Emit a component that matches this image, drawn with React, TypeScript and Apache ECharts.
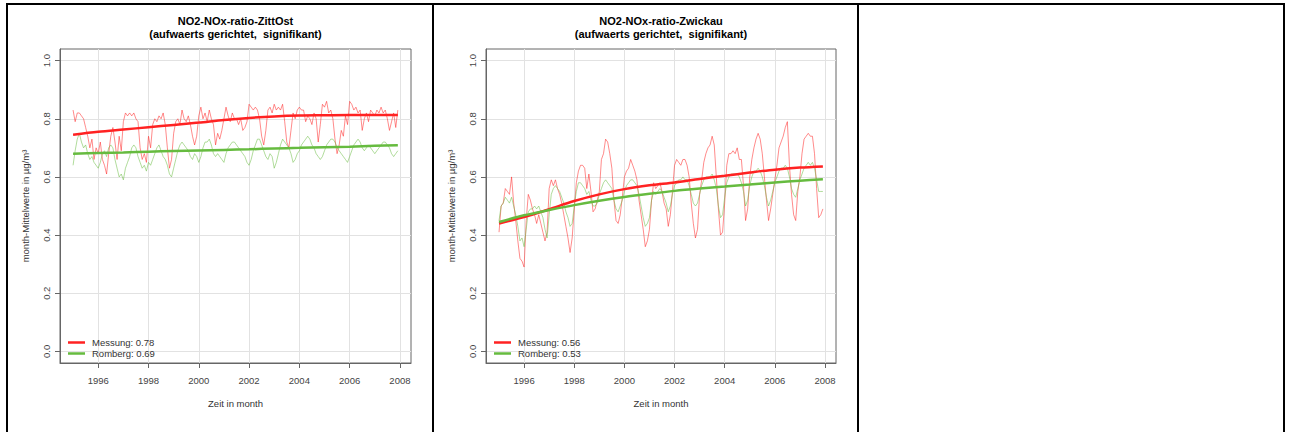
import React, { useEffect, useRef } from "react";
import * as echarts from "echarts";

const START_YEAR = 1995;
const xTicks = [1996, 1998, 2000, 2002, 2004, 2006, 2008];
const yTicks = [0, 0.2, 0.4, 0.6, 0.8, 1.0];
const trendYears = [1995, 1996, 1997, 1998, 1999, 2000, 2001, 2002, 2003, 2004, 2005, 2006, 2007, 2007.917];

const panelTitles = ["NO2-NOx-ratio-ZittOst", "NO2-NOx-ratio-Zwickau"];
const panelSubtitle = "(aufwaerts gerichtet,  signifikant)";
const legendZittOst = ["Messung: 0.78", "Romberg: 0.69"];
const legendZwickau = ["Messung: 0.56", "Romberg: 0.53"];

// ZittOst monthly means, Jan 1995 .. Dec 2007
const zittOstMessung = [
  0.83, 0.79, 0.82, 0.82, 0.81, 0.80, 0.77, 0.74, 0.70, 0.73, 0.66, 0.70,
  0.68, 0.72, 0.66, 0.64, 0.61, 0.68, 0.74, 0.77, 0.72, 0.66, 0.74, 0.69,
  0.79, 0.82, 0.81, 0.82, 0.81, 0.82, 0.80, 0.79, 0.70, 0.66, 0.68, 0.65,
  0.74, 0.70, 0.78, 0.80, 0.79, 0.81, 0.80, 0.82, 0.78, 0.70, 0.63, 0.66,
  0.75, 0.79, 0.80, 0.78, 0.83, 0.80, 0.79, 0.81, 0.78, 0.74, 0.71, 0.74,
  0.81, 0.84, 0.80, 0.82, 0.79, 0.83, 0.80, 0.78, 0.71, 0.75, 0.73, 0.76,
  0.80, 0.84, 0.81, 0.79, 0.82, 0.80, 0.80, 0.78, 0.80, 0.76, 0.77, 0.79,
  0.85, 0.84, 0.83, 0.84, 0.83, 0.80, 0.74, 0.71, 0.76, 0.83, 0.84, 0.82,
  0.85, 0.83, 0.84, 0.83, 0.85, 0.79, 0.72, 0.70, 0.76, 0.82, 0.80, 0.83,
  0.84, 0.83, 0.83, 0.79, 0.81, 0.80, 0.78, 0.82, 0.80, 0.72, 0.78, 0.85,
  0.84, 0.86, 0.82, 0.83, 0.80, 0.73, 0.68, 0.71, 0.76, 0.74, 0.81, 0.78,
  0.86, 0.85, 0.83, 0.84, 0.82, 0.83, 0.76, 0.80, 0.82, 0.79, 0.83, 0.82,
  0.81, 0.83, 0.82, 0.84, 0.82, 0.83, 0.80, 0.76, 0.79, 0.82, 0.77, 0.83,
];
const zittOstRomberg = [
  0.64, 0.69, 0.73, 0.75, 0.72, 0.70, 0.71, 0.68, 0.66, 0.67, 0.65, 0.64,
  0.63, 0.65, 0.68, 0.69, 0.67, 0.70, 0.71, 0.70, 0.66, 0.63, 0.60, 0.61,
  0.59, 0.63, 0.65, 0.67, 0.70, 0.71, 0.70, 0.67, 0.65, 0.63, 0.64, 0.62,
  0.65, 0.64, 0.66, 0.68, 0.70, 0.71, 0.69, 0.67, 0.66, 0.64, 0.61, 0.60,
  0.63, 0.66, 0.69, 0.71, 0.72, 0.71, 0.70, 0.69, 0.67, 0.66, 0.68, 0.67,
  0.65, 0.67, 0.70, 0.72, 0.72, 0.73, 0.71, 0.68, 0.67, 0.68, 0.67, 0.66,
  0.65, 0.68, 0.70, 0.71, 0.72, 0.72, 0.71, 0.70, 0.69, 0.68, 0.67, 0.65,
  0.64, 0.66, 0.69, 0.71, 0.73, 0.73, 0.71, 0.69, 0.67, 0.66, 0.68, 0.67,
  0.63, 0.65, 0.68, 0.71, 0.73, 0.72, 0.71, 0.70, 0.68, 0.65, 0.66, 0.68,
  0.69, 0.71, 0.72, 0.73, 0.74, 0.73, 0.71, 0.70, 0.68, 0.67, 0.66, 0.67,
  0.69, 0.71, 0.72, 0.73, 0.73, 0.72, 0.70, 0.69, 0.68, 0.67, 0.66, 0.65,
  0.67, 0.69, 0.71, 0.72, 0.73, 0.72, 0.70, 0.69, 0.70, 0.71, 0.70, 0.69,
  0.68, 0.69, 0.70, 0.71, 0.72, 0.72, 0.71, 0.70, 0.68, 0.67, 0.68, 0.69,
];
const zittOstMessungTrend = [0.745, 0.755, 0.763, 0.771, 0.779, 0.787, 0.796, 0.803, 0.808, 0.811, 0.812, 0.813, 0.813, 0.813];
const zittOstRombergTrend = [0.680, 0.682, 0.684, 0.687, 0.689, 0.691, 0.693, 0.695, 0.698, 0.700, 0.702, 0.704, 0.707, 0.709];

// Zwickau monthly means, Jan 1995 .. Dec 2007
const zwickauMessung = [
  0.41, 0.50, 0.51, 0.56, 0.55, 0.54, 0.60, 0.51, 0.45, 0.38, 0.32, 0.31,
  0.29, 0.45, 0.54, 0.52, 0.49, 0.47, 0.44, 0.47, 0.44, 0.41, 0.38, 0.41,
  0.56, 0.59, 0.57, 0.59, 0.56, 0.54, 0.51, 0.47, 0.43, 0.39, 0.34, 0.39,
  0.49, 0.58, 0.62, 0.64, 0.64, 0.63, 0.56, 0.61, 0.55, 0.48, 0.49, 0.52,
  0.55, 0.66, 0.68, 0.73, 0.72, 0.68, 0.63, 0.52, 0.45, 0.44, 0.47, 0.53,
  0.60, 0.62, 0.63, 0.66, 0.64, 0.62, 0.59, 0.52, 0.47, 0.42, 0.36, 0.38,
  0.42, 0.52, 0.58, 0.56, 0.57, 0.58, 0.55, 0.51, 0.49, 0.43, 0.47, 0.55,
  0.64, 0.66, 0.65, 0.64, 0.66, 0.66, 0.64, 0.60, 0.51, 0.44, 0.39, 0.42,
  0.54, 0.59, 0.65, 0.68, 0.70, 0.71, 0.74, 0.71, 0.60, 0.49, 0.40, 0.41,
  0.51, 0.64, 0.68, 0.68, 0.69, 0.68, 0.70, 0.66, 0.66, 0.57, 0.45, 0.49,
  0.60, 0.66, 0.70, 0.73, 0.75, 0.73, 0.68, 0.60, 0.52, 0.45, 0.49, 0.54,
  0.59, 0.64, 0.70, 0.72, 0.74, 0.77, 0.79, 0.64, 0.54, 0.47, 0.45, 0.55,
  0.60, 0.68, 0.73, 0.74, 0.75, 0.74, 0.74, 0.68, 0.56, 0.46, 0.47, 0.49,
];
const zwickauRomberg = [
  0.45, 0.50, 0.51, 0.53, 0.52, 0.51, 0.53, 0.50, 0.47, 0.43, 0.38, 0.39,
  0.36, 0.42, 0.48, 0.49, 0.49, 0.50, 0.49, 0.50, 0.48, 0.46, 0.42, 0.39,
  0.47, 0.54, 0.56, 0.57, 0.56, 0.55, 0.53, 0.51, 0.48, 0.46, 0.43, 0.44,
  0.50, 0.55, 0.58, 0.58, 0.57, 0.56, 0.54, 0.55, 0.52, 0.50, 0.50, 0.51,
  0.54, 0.56, 0.58, 0.59, 0.58, 0.57, 0.56, 0.52, 0.49, 0.48, 0.50, 0.52,
  0.55, 0.57, 0.58, 0.59, 0.59, 0.58, 0.57, 0.54, 0.50, 0.46, 0.43, 0.44,
  0.46, 0.52, 0.55, 0.54, 0.55, 0.56, 0.55, 0.53, 0.51, 0.48, 0.50, 0.54,
  0.57, 0.58, 0.59, 0.59, 0.60, 0.59, 0.59, 0.57, 0.54, 0.51, 0.50, 0.51,
  0.54, 0.57, 0.59, 0.60, 0.60, 0.60, 0.61, 0.59, 0.56, 0.50, 0.46, 0.47,
  0.53, 0.58, 0.60, 0.61, 0.61, 0.61, 0.61, 0.60, 0.58, 0.55, 0.50, 0.52,
  0.57, 0.60, 0.62, 0.62, 0.63, 0.62, 0.60, 0.57, 0.53, 0.50, 0.52, 0.55,
  0.58, 0.60, 0.62, 0.63, 0.63, 0.64, 0.63, 0.60, 0.56, 0.54, 0.53, 0.56,
  0.59, 0.61, 0.63, 0.64, 0.65, 0.64, 0.65, 0.63, 0.59, 0.55, 0.55, 0.55,
];
const zwickauMessungTrend = [0.440, 0.462, 0.489, 0.517, 0.540, 0.558, 0.571, 0.581, 0.593, 0.604, 0.615, 0.625, 0.632, 0.636];
const zwickauRombergTrend = [0.445, 0.468, 0.486, 0.503, 0.518, 0.531, 0.542, 0.552, 0.560, 0.567, 0.574, 0.581, 0.587, 0.592];

const FONT = '"Liberation Sans", Arial, Helvetica, sans-serif';
const RED_RAW = "rgba(255, 40, 40, 0.6)";
const GREEN_RAW = "rgba(110, 190, 70, 0.6)";
const RED = "#FF2222";
const GREEN = "#66BB3F";

const monthly = (vals: number[]) => vals.map((v, i) => [START_YEAR + i / 12, v]);
const trend = (vals: number[]) => vals.map((v, i) => [trendYears[i], v]);

const grids = [
  { left: 60, top: 49, width: 351, height: 314 },
  { left: 486, top: 49, width: 350, height: 314 },
];

function makeXAxis(idx: number) {
  return {
    type: "value",
    gridIndex: idx,
    min: 1994.48,
    max: 2008.44,
    name: "Zeit in month",
    nameLocation: "middle",
    nameGap: 35,
    nameTextStyle: { fontSize: 9.5, color: "#333", fontFamily: FONT },
    axisLine: { show: true, onZero: false, lineStyle: { color: "#666", width: 1 } },
    axisTick: { show: true, customValues: xTicks, length: 5, lineStyle: { color: "#666" } },
    axisLabel: {
      customValues: xTicks,
      margin: 12,
      fontSize: 9.5,
      color: "#444",
      fontFamily: FONT,
      formatter: (v: number) => String(Math.round(v)),
    },
    splitLine: { show: true, lineStyle: { color: "#e2e2e2", width: 1 } },
  };
}

function makeYAxis(idx: number) {
  return {
    type: "value",
    gridIndex: idx,
    min: -0.04,
    max: 1.04,
    name: "month-Mittelwerte in µg/m³",
    nameLocation: "middle",
    nameGap: 30,
    nameTextStyle: { fontSize: 9.5, color: "#333", fontFamily: FONT },
    axisLine: { show: true, onZero: false, lineStyle: { color: "#666", width: 1 } },
    axisTick: { show: true, customValues: yTicks, length: 5, lineStyle: { color: "#666" } },
    axisLabel: {
      customValues: yTicks,
      rotate: 90,
      margin: 9,
      fontSize: 9.5,
      color: "#444",
      fontFamily: FONT,
      formatter: (v: number) => v.toFixed(1),
    },
    splitLine: { show: true, lineStyle: { color: "#e2e2e2", width: 1 } },
  };
}

function rawSeries(name: string, vals: number[], color: string, idx: number) {
  return {
    type: "line",
    name,
    xAxisIndex: idx,
    yAxisIndex: idx,
    data: monthly(vals),
    showSymbol: false,
    symbol: "none",
    color,
    lineStyle: { color, width: 0.9 },
    silent: true,
  };
}

function trendSeries(name: string, vals: number[], color: string, idx: number) {
  return {
    type: "line",
    name,
    xAxisIndex: idx,
    yAxisIndex: idx,
    data: trend(vals),
    showSymbol: false,
    symbol: "none",
    smooth: 0.3,
    color,
    lineStyle: { color, width: 2.5 },
    silent: true,
    z: 5,
  };
}

function makeLegend(names: string[], left: number) {
  return {
    data: names.map((n) => ({ name: n, icon: "rect" })),
    orient: "vertical",
    left,
    top: 337,
    padding: 0,
    itemWidth: 17,
    itemHeight: 2.5,
    itemGap: 0,
    selectedMode: false,
    textStyle: { fontSize: 9.5, color: "#333", fontFamily: FONT, lineHeight: 11, padding: [0, 0, 0, 2] },
  };
}

const borderRects = [
  { x: 6, y: 3, w: 1279, h: 2 },
  { x: 6, y: 3, w: 2, h: 429 },
  { x: 432, y: 3, w: 2, h: 429 },
  { x: 857, y: 3, w: 2, h: 429 },
  { x: 1283, y: 3, w: 2, h: 429 },
];

export default function App() {
  const ref = useRef<HTMLDivElement | null>(null);

  useEffect(() => {
    if (!ref.current) return;
    const chart = echarts.init(ref.current, undefined, { renderer: "svg" });

    const graphics: any[] = borderRects.map((r) => ({
      type: "rect",
      shape: { x: r.x, y: r.y, width: r.w, height: r.h },
      style: { fill: "#000" },
      silent: true,
    }));
    grids.forEach((g, i) => {
      const cx = g.left + g.width / 2;
      graphics.push({
        type: "text",
        x: cx,
        y: 21,
        style: {
          text: panelTitles[i],
          align: "center",
          verticalAlign: "middle",
          font: `bold 11px ${FONT}`,
          fill: "#000",
        },
      });
      graphics.push({
        type: "text",
        x: cx,
        y: 33.5,
        style: {
          text: panelSubtitle,
          align: "center",
          verticalAlign: "middle",
          font: `bold 11px ${FONT}`,
          fill: "#000",
        },
      });
    });

    chart.setOption({
      animation: false,
      backgroundColor: "#fff",
      grid: grids.map((g) => ({ ...g, show: true, borderColor: "#666", borderWidth: 1, backgroundColor: "transparent" })),
      xAxis: [makeXAxis(0), makeXAxis(1)],
      yAxis: [makeYAxis(0), makeYAxis(1)],
      legend: [makeLegend(legendZittOst, 68), makeLegend(legendZwickau, 494)],
      series: [
        rawSeries("ZittOst Messung raw", zittOstMessung, RED_RAW, 0),
        rawSeries("ZittOst Romberg raw", zittOstRomberg, GREEN_RAW, 0),
        trendSeries(legendZittOst[0], zittOstMessungTrend, RED, 0),
        trendSeries(legendZittOst[1], zittOstRombergTrend, GREEN, 0),
        rawSeries("Zwickau Messung raw", zwickauMessung, RED_RAW, 1),
        rawSeries("Zwickau Romberg raw", zwickauRomberg, GREEN_RAW, 1),
        trendSeries(legendZwickau[0], zwickauMessungTrend, RED, 1),
        trendSeries(legendZwickau[1], zwickauRombergTrend, GREEN, 1),
      ],
      graphic: graphics,
    });

    return () => chart.dispose();
  }, []);

  return (
    <div
      ref={ref}
      style={{ position: "absolute", left: 0, top: 0, width: 1291, height: 432, background: "#fff" }}
    />
  );
}
